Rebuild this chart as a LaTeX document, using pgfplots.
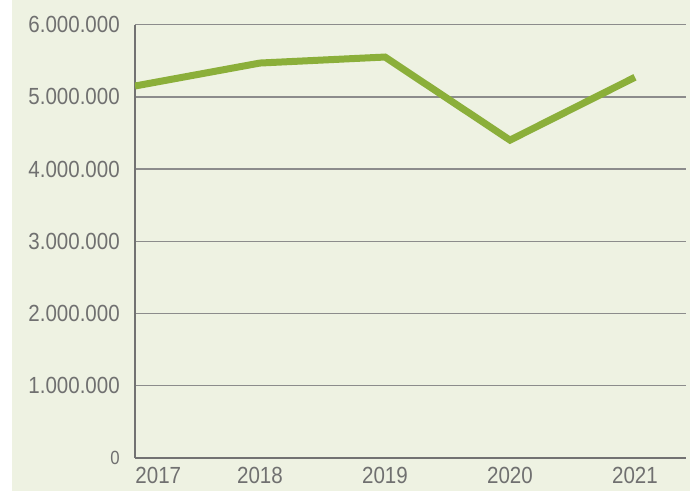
\documentclass[border=0pt]{standalone}
\usepackage{pgfplots}
\pgfplotsset{compat=1.18}
\usepackage{fontspec}
\setmainfont[FakeStretch=0.88]{Liberation Sans}
\definecolor{bg}{HTML}{EEF2E2}
\definecolor{ln}{HTML}{8BAF3A}
\definecolor{grd}{HTML}{8C8C8C}
\definecolor{axc}{HTML}{727272}
\definecolor{txt}{HTML}{707070}
\begin{document}
\begin{tikzpicture}
\useasboundingbox (-101.25pt,-24.75pt) rectangle (416.25pt,343.5pt);
\fill[white] (-101.25pt,-24.75pt) rectangle (416.25pt,343.5pt);
\fill[bg] (-92.25pt,-24.75pt) rectangle (416.25pt,343.5pt);
\begin{axis}[
  at={(0,0)}, anchor=south west,
  scale only axis,
  width=413.25pt, height=325.1pt,
  xmin=0, xmax=4.408,
  ymin=0, ymax=6000000,
  scaled y ticks=false,
  axis x line=bottom, axis y line=left,
  axis line style={-, axc, line width=2.2pt},
  major tick length=0pt,
  ymajorgrids,
  grid style={grd, line width=1.1pt},
  xtick={0,1,2,3,4},
  xticklabels={\hspace*{35pt}2017,2018,2019,2020,2021},
  ytick={0,1000000,2000000,3000000,4000000,5000000,6000000},
  yticklabels={{\fontsize{14.3}{15}\selectfont 0},1.000.000,2.000.000,3.000.000,4.000.000,5.000.000,6.000.000},
  tick label style={text=txt, font=\fontsize{17.5}{20}\selectfont, inner sep=0pt},
  xticklabel style={anchor=north, yshift=-6.75pt},
  yticklabel style={anchor=east, xshift=-11.25pt},
  clip=true,
]
\addplot[ln, line width=5.25pt, line cap=butt, line join=miter] coordinates {
  (0,5149000) (1,5467000) (2,5550000) (3,4400000) (4,5270000)
};
\end{axis}
\end{tikzpicture}
\end{document}
